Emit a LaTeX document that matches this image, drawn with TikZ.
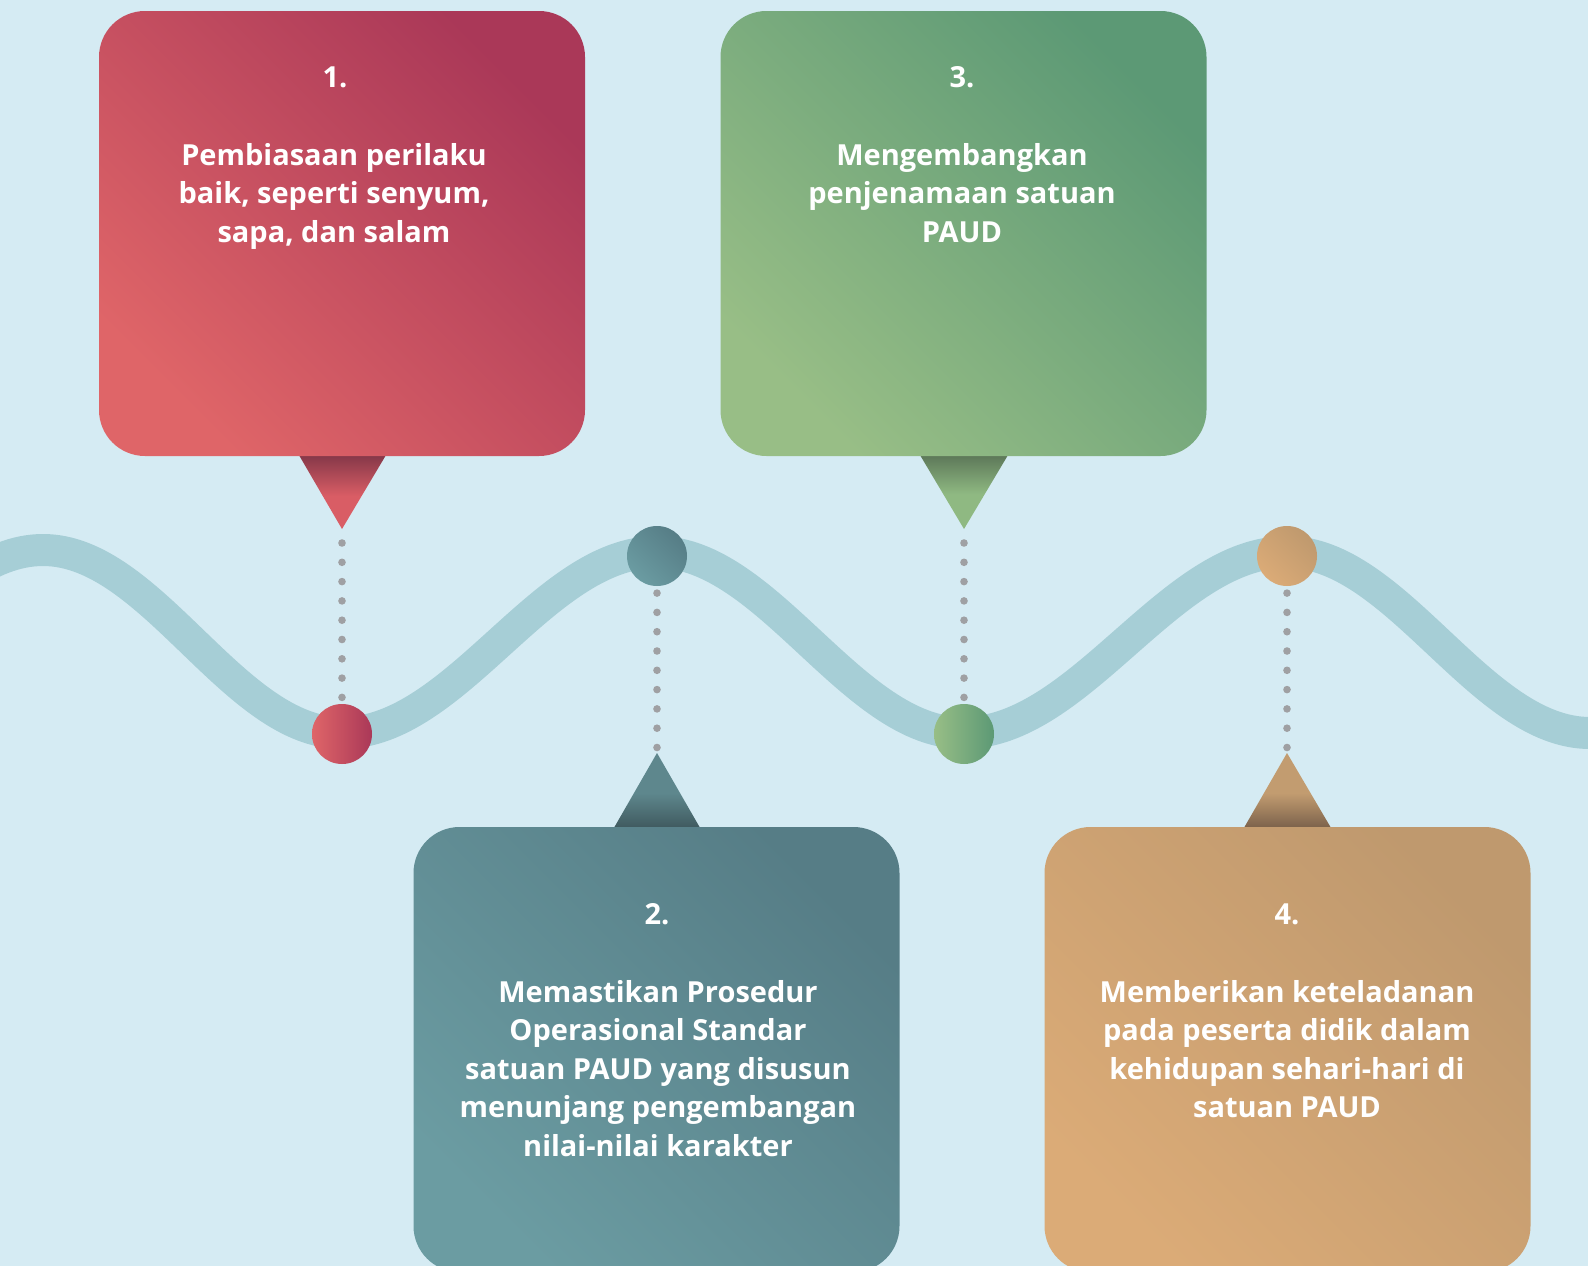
\documentclass[tikz,border=0pt]{standalone}
\usepackage{fontspec}
\setmainfont{Open Sans}
\definecolor{bg}{HTML}{D5EBF3}
\definecolor{wave}{HTML}{A6CED6}
\definecolor{dotgray}{HTML}{9FA0A3}
\definecolor{rDark}{HTML}{AA3858}
\definecolor{rLight}{HTML}{DF6568}
\definecolor{rTri}{HTML}{D95D65}
\definecolor{rTriD}{HTML}{7A3345}
\definecolor{gDark}{HTML}{5C9975}
\definecolor{gLight}{HTML}{98BE86}
\definecolor{gTri}{HTML}{8FB982}
\definecolor{gTriD}{HTML}{566F53}
\definecolor{tDark}{HTML}{567D86}
\definecolor{tLight}{HTML}{6B9CA2}
\definecolor{tTri}{HTML}{5E878D}
\definecolor{tTriD}{HTML}{3B5358}
\definecolor{oDark}{HTML}{BF996E}
\definecolor{oLight}{HTML}{DBAB77}
\definecolor{oTri}{HTML}{C29C70}
\definecolor{oTriD}{HTML}{715946}
\pgfdeclareverticalshading{triR}{100bp}{color(0bp)=(rTri); color(46bp)=(rTri); color(75bp)=(rTriD); color(100bp)=(rTriD)}
\pgfdeclareverticalshading{triG}{100bp}{color(0bp)=(gTri); color(47bp)=(gTri); color(75bp)=(gTriD); color(100bp)=(gTriD)}
\pgfdeclareverticalshading{triT}{100bp}{color(0bp)=(tTriD); color(25bp)=(tTriD); color(50bp)=(tTri); color(100bp)=(tTri)}
\pgfdeclareverticalshading{triO}{100bp}{color(0bp)=(oTriD); color(25bp)=(oTriD); color(50bp)=(oTri); color(100bp)=(oTri)}
\tikzset{
  card/.style={rounded corners=46pt, minimum width=486pt, minimum height=445pt, inner sep=0pt},
  txt/.style={text=white, font=\fontsize{29}{38.5}\selectfont\bfseries, align=center, inner sep=0pt, anchor=base},
  dotc/.style={circle, minimum size=60pt, inner sep=0pt},
  dotline/.style={draw=dotgray, line width=7.6pt, line cap=round, dash pattern=on 0pt off 19.3pt},
}
\begin{document}
\begin{tikzpicture}[x=1pt,y=-1pt]
\useasboundingbox (0,0) rectangle (1588,1266);
\fill[bg] (0,0) rectangle (1588,1266);
\begin{scope}
\clip (0,0) rectangle (1588,1266);
% wave
\draw[wave, line width=32pt]
  (-260,733) .. controls (-150,733) and (-67,550) .. (43,550)
  .. controls (152,550) and (233,733) .. (342,733)
  .. controls (457,733) and (542,552) .. (657,552)
  .. controls (768,552) and (852,733) .. (963,733)
  .. controls (1081,733) and (1169,552) .. (1287,552)
  .. controls (1397,552) and (1480,733) .. (1590,733)
  .. controls (1700,733) and (1780,552) .. (1890,552);
% tips of triangles
\coordinate (tip1) at (342,529);
\coordinate (tip3) at (964,529);
\coordinate (tip2) at (657,753);
\coordinate (tip4) at (1287,753);
% circles
\node[dotc, left color=rLight, right color=rDark] (c1) at (342,734) {};
\node[dotc, left color=gLight, right color=gDark] (c3) at (964,734) {};
\node[dotc, top color=tDark, bottom color=tLight, shading angle=-45] (c2) at (657,556) {};
\node[dotc, top color=oDark, bottom color=oLight, shading angle=-45] (c4) at (1287,556) {};
% dotted connectors
\draw[dotline, dash phase=5.3pt] (tip1) -- (c1.north);
\draw[dotline, dash phase=5.3pt] (tip3) -- (c3.north);
\draw[dotline, dash phase=12.4pt] (c2.south) -- (tip2);
\draw[dotline, dash phase=12.4pt] (c4.south) -- (tip4);
% triangles
\shade[shading=triR] (296,450) -- (389,450) -- (tip1) -- cycle;
\shade[shading=triG] (917,450) -- (1011,450) -- (tip3) -- cycle;
\shade[shading=triT] (611,833) -- (703,833) -- (tip2) -- cycle;
\shade[shading=triO] (1241,833) -- (1334,833) -- (tip4) -- cycle;
% cards
\node[card, top color=rDark, bottom color=rLight, shading angle=-45] (b1) at (342,233.5) {};
\node[card, top color=gDark, bottom color=gLight, shading angle=-45] (b3) at (963.5,233.5) {};
\node[card, top color=tDark, bottom color=tLight, shading angle=-45] (b2) at (656.5,1049.5) {};
\node[card, top color=oDark, bottom color=oLight, shading angle=-45] (b4) at (1287.5,1049.5) {};
\end{scope}
% texts (multi-line nodes: base = baseline of last line)
\node[txt] (n1) at (335,87) {1.};
\node[txt] (d1) at (334,242) {Pembiasaan perilaku\\baik, seperti senyum,\\sapa, dan salam};
\node[txt] (n3) at (962,87) {3.};
\node[txt] (d3) at (962,242) {Mengembangkan\\penjenamaan satuan\\PAUD};
\node[txt] (n2) at (657,924) {2.};
\node[txt] (d2) at (658,1156) {Memastikan Prosedur\\Operasional Standar\\satuan PAUD yang disusun\\menunjang pengembangan\\nilai-nilai karakter};
\node[txt] (n4) at (1287,924) {4.};
\node[txt] (d4) at (1287,1117.5) {Memberikan keteladanan\\pada peserta didik dalam\\kehidupan sehari-hari di\\satuan PAUD};
\end{tikzpicture}
\end{document}
